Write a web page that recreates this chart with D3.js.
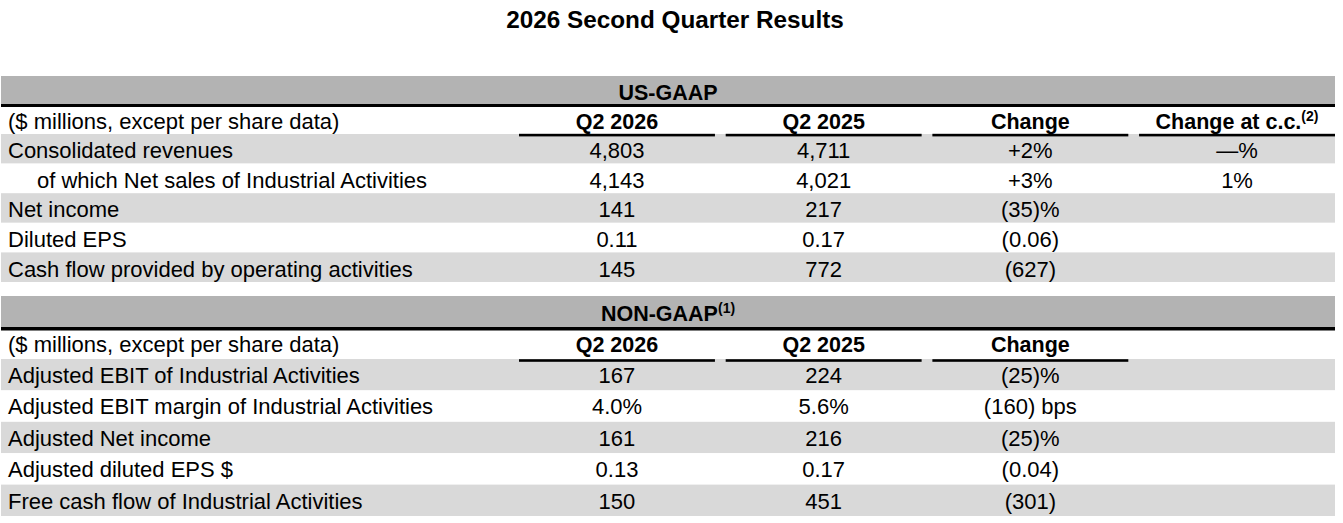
<!DOCTYPE html>
<html>
<head>
<meta charset="utf-8">
<script src="https://cdn.jsdelivr.net/npm/d3@7"></script>
<style>
  body { margin: 0; background: #fff; }
  text { font-family: "Liberation Sans", Arial, sans-serif; fill: #000; }
</style>
</head>
<body>
<div id="viz"></div>
<script>
// table content
var title = '2026 Second Quarter Results';
var columns = ['Q2 2026', 'Q2 2025', 'Change', 'Change at c.c.'];
var unitLabel = '($ millions, except per share data)';

var gaapRows = ['Consolidated revenues', 'of which Net sales of Industrial Activities', 'Net income', 'Diluted EPS', 'Cash flow provided by operating activities'];
var gaapIndent = [false, true, false, false, false];
var gaapQ2026 = ['4,803', '4,143', '141', '0.11', '145'];
var gaapQ2025 = ['4,711', '4,021', '217', '0.17', '772'];
var gaapChange = ['+2%', '+3%', '(35)%', '(0.06)', '(627)'];
var gaapChangeCC = ['\u2014%', '1%', '', '', ''];

var nonRows = ['Adjusted EBIT of Industrial Activities', 'Adjusted EBIT margin of Industrial Activities', 'Adjusted Net income', 'Adjusted diluted EPS $', 'Free cash flow of Industrial Activities'];
var nonQ2026 = ['167', '4.0%', '161', '0.13', '150'];
var nonQ2025 = ['224', '5.6%', '216', '0.17', '451'];
var nonChange = ['(25)%', '(160) bps', '(25)%', '(0.04)', '(301)'];

var width = 1343;
var height = 523;
var left = 1, right = 1335;
var fontSize = 22;
var boldSize = 21.5;

var svg = d3.select('#viz')
  .append('svg')
  .attr('width', width)
  .attr('height', height);

var xCol = d3.scaleBand().domain(columns).range([519, 1335]).paddingInner(0.052).paddingOuter(0);

svg.append('text')
  .attr('x', 675)
  .attr('y', 28)
  .attr('text-anchor', 'middle')
  .style('font-size', '24.3px')
  .style('font-weight', 'bold')
  .text(title);

function section(opts) {
  var g = svg.append('g');
  var nCols = opts.values.length;
  var yRow = d3.scaleBand().domain(d3.range(opts.rows.length)).range([opts.rowsTop, opts.rowsBottom]);

  // section band
  g.append('rect')
    .attr('x', left).attr('y', opts.bandTop)
    .attr('width', right - left).attr('height', opts.lineTop - opts.bandTop)
    .attr('fill', '#b3b3b3');
  g.append('rect')
    .attr('x', left).attr('y', opts.lineTop)
    .attr('width', right - left).attr('height', opts.lineH)
    .attr('fill', '#000');

  var head = g.append('text')
    .attr('x', (left + right) / 2)
    .attr('y', opts.bandBase)
    .attr('text-anchor', 'middle')
    .style('font-size', boldSize + 'px')
    .style('font-weight', 'bold')
    .text(opts.name);
  if (opts.note) {
    head.append('tspan').attr('dy', -8).style('font-size', '14px').text(opts.note);
  }

  // striped rows
  g.selectAll('rect.stripe').data(opts.rows)
    .enter().append('rect')
    .attr('class', 'stripe')
    .attr('x', left)
    .attr('y', function(d, i) { return yRow(i); })
    .attr('width', right - left)
    .attr('height', yRow.bandwidth())
    .attr('fill', function(d, i) { return i % 2 == 0 ? '#d9d9d9' : '#fff'; });

  // column headers
  g.append('text')
    .attr('x', 8).attr('y', opts.headBase)
    .style('font-size', fontSize + 'px')
    .text(unitLabel);

  var cols = columns.slice(0, nCols);
  g.selectAll('rect.rule').data(cols)
    .enter().append('rect')
    .attr('class', 'rule')
    .attr('x', function(d) { return xCol(d); })
    .attr('y', opts.ruleY)
    .attr('width', xCol.bandwidth())
    .attr('height', 2.6)
    .attr('fill', '#000');

  g.selectAll('text.colhead').data(cols)
    .enter().append('text')
    .attr('class', 'colhead')
    .attr('x', function(d) { return xCol(d) + xCol.bandwidth() / 2; })
    .attr('y', opts.headBase)
    .attr('text-anchor', 'middle')
    .style('font-size', boldSize + 'px')
    .style('font-weight', 'bold')
    .each(function(d) {
      var t = d3.select(this);
      t.append('tspan').text(d);
      if (d == 'Change at c.c.') {
        t.append('tspan').attr('dy', -8).style('font-size', '14px').text('(2)');
      }
    });

  // row labels
  g.selectAll('text.label').data(opts.rows)
    .enter().append('text')
    .attr('class', 'label')
    .attr('x', function(d, i) { return opts.indent && opts.indent[i] ? 37 : 8; })
    .attr('y', function(d, i) { return yRow(i) + yRow.bandwidth() / 2 + opts.baseOff; })
    .style('font-size', fontSize + 'px')
    .text(function(d) { return d; });

  // values
  opts.values.forEach(function(vals, c) {
    g.selectAll('text.v' + c).data(vals)
      .enter().append('text')
      .attr('class', 'v' + c)
      .attr('x', xCol(columns[c]) + xCol.bandwidth() / 2)
      .attr('y', function(d, i) { return yRow(i) + yRow.bandwidth() / 2 + opts.baseOff; })
      .attr('text-anchor', 'middle')
      .style('font-size', fontSize + 'px')
      .text(function(d) { return d; });
  });
}

section({
  name: 'US-GAAP', note: null,
  bandTop: 76, lineTop: 104, lineH: 3, bandBase: 100,
  headBase: 128.5, ruleY: 133.8,
  rowsTop: 134, rowsBottom: 282, baseOff: 9.3,
  rows: gaapRows, indent: gaapIndent,
  values: [gaapQ2026, gaapQ2025, gaapChange, gaapChangeCC]
});

section({
  name: 'NON-GAAP', note: '(1)',
  bandTop: 296, lineTop: 327, lineH: 3.5, bandBase: 320.7,
  headBase: 351.7, ruleY: 359.2,
  rowsTop: 359, rowsBottom: 516, baseOff: 8.3,
  rows: nonRows, indent: null,
  values: [nonQ2026, nonQ2025, nonChange]
});
</script>
</body>
</html>
